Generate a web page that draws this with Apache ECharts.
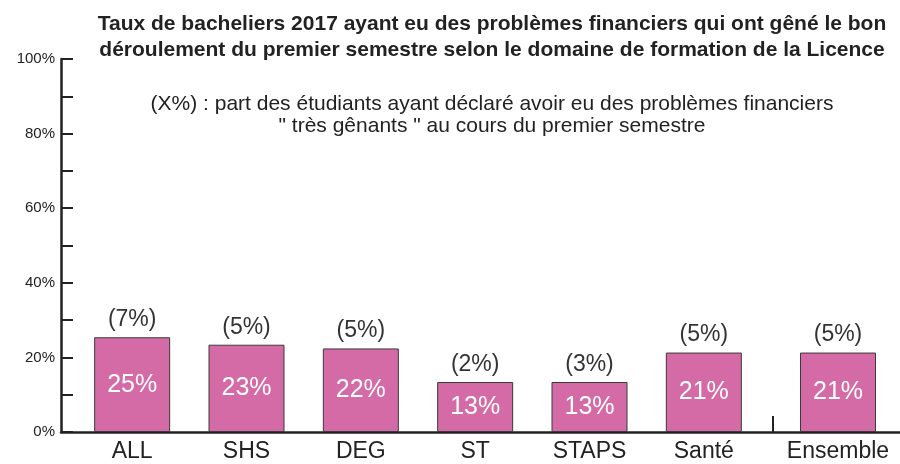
<!DOCTYPE html>
<html>
<head>
<meta charset="utf-8">
<script src="https://cdn.jsdelivr.net/npm/echarts@6/dist/echarts.min.js"></script>
<style>
  html, body { margin: 0; padding: 0; background: #fff; }
  #chart { width: 900px; height: 464px; }
</style>
</head>
<body>
<div id="chart"></div>
<script>
// domaines de formation (les 6 premiers + Ensemble à part)
const domaines = ['ALL', 'SHS', 'DEG', 'ST', 'STAPS', 'Santé']
const tauxGene = [25.4, 23.4, 22.4, 13.4, 13.4, 21.3]
const tresGenants = [7, 5, 5, 2, 3, 5]

const ensembleLabel = ['Ensemble']
const ensembleTaux = [21.3]
const ensembleTres = [5]

const yTicks = [0, 20, 40, 60, 80, 100]

const PINK = '#d46ba6'
const INK = '#222'
const FONT = 'Liberation Sans, Arial, sans-serif'

let myChart = echarts.init(document.getElementById('chart'))

function barSeries(xIdx, values, extra) {
  return [{
    type: 'bar',
    xAxisIndex: xIdx,
    yAxisIndex: xIdx,
    data: values,
    barWidth: 76,
    silent: true,
    itemStyle: { color: PINK, borderColor: '#3a3a3a', borderWidth: 1 },
    label: {
      show: true,
      position: 'inside',
      color: '#fff',
      fontFamily: FONT,
      fontSize: 25,
      formatter: p => Math.round(p.value) + '%'
    }
  }, {
    // série fantôme pour afficher (X%) au dessus des barres
    type: 'bar',
    xAxisIndex: xIdx,
    yAxisIndex: xIdx,
    data: values,
    barWidth: 76,
    barGap: '-100%',
    silent: true,
    itemStyle: { color: 'rgba(0,0,0,0)' },
    label: {
      show: true,
      position: 'top',
      distance: 6,
      color: '#333',
      fontFamily: FONT,
      fontSize: 23,
      formatter: p => '(' + extra[p.dataIndex] + '%)'
    }
  }]
}

let option = {
  animation: false,
  title: [{
    text: 'Taux de bacheliers 2017 ayant eu des problèmes financiers qui ont gêné le bon\ndéroulement du premier semestre selon le domaine de formation de la Licence',
    left: 487,
    top: 6,
    textAlign: 'center',
    textStyle: { fontFamily: FONT, fontSize: 21, fontWeight: 'bold', color: INK, lineHeight: 26 }
  }, {
    text: '(X%) : part des étudiants ayant déclaré avoir eu des problèmes financiers\n" très gênants " au cours du premier semestre',
    left: 487,
    top: 88,
    textAlign: 'center',
    textStyle: { fontFamily: FONT, fontSize: 21, fontWeight: 'normal', color: INK, lineHeight: 22 }
  }],
  grid: [
    { left: 61, right: 0, top: 59, bottom: 32, outerBoundsMode: 'none' },        // axes
    { left: 75, width: 686, top: 59, bottom: 32, outerBoundsMode: 'none' },      // 6 domaines
    { left: 773, width: 130, top: 59, bottom: 32, outerBoundsMode: 'none' }      // Ensemble
  ],
  xAxis: [{
    gridIndex: 0,
    type: 'category',
    data: [''],
    axisLine: { lineStyle: { color: INK, width: 2.5 } },
    axisTick: { show: false },
    axisLabel: { show: false }
  }, {
    gridIndex: 1,
    type: 'category',
    data: domaines,
    axisLine: { show: false },
    axisTick: { show: false },
    axisLabel: { color: INK, fontFamily: FONT, fontSize: 23, margin: 8 }
  }, {
    gridIndex: 2,
    type: 'category',
    data: ensembleLabel,
    axisLine: { show: false },
    axisTick: { show: true, inside: true, length: 16, lineStyle: { color: INK, width: 2 } },
    axisLabel: { color: INK, fontFamily: FONT, fontSize: 23, margin: 8 }
  }],
  yAxis: [{
    gridIndex: 0,
    type: 'value',
    min: 0,
    max: 100,
    interval: 10,
    splitLine: { show: false },
    axisLine: { show: true, lineStyle: { color: INK, width: 2.5 } },
    axisTick: { show: true, inside: true, length: 12, lineStyle: { color: INK, width: 2 } },
    axisLabel: {
      color: INK,
      fontFamily: FONT,
      fontSize: 15,
      margin: 6,
      formatter: v => yTicks.includes(v) ? v + '%' : ''
    }
  }, {
    gridIndex: 1, type: 'value', min: 0, max: 100, show: false
  }, {
    gridIndex: 2, type: 'value', min: 0, max: 100, show: false
  }],
  series: [
    ...barSeries(1, tauxGene, tresGenants),
    ...barSeries(2, ensembleTaux, ensembleTres)
  ]
}

myChart.setOption(option)
</script>
</body>
</html>
